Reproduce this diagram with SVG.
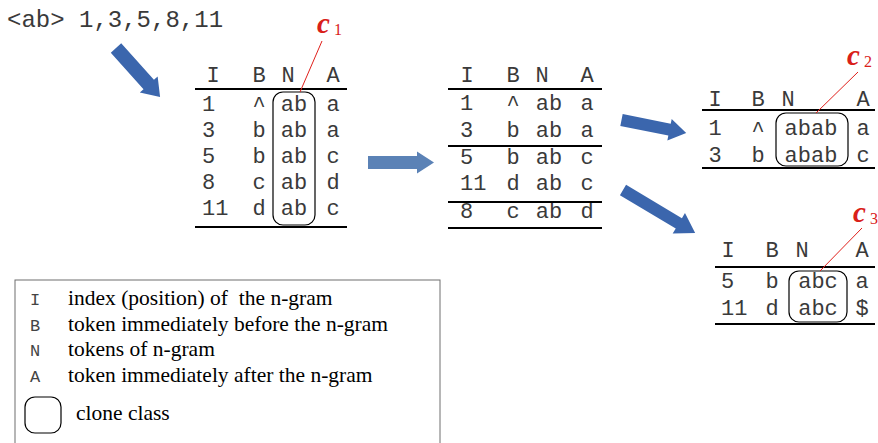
<svg xmlns="http://www.w3.org/2000/svg" width="878" height="443" viewBox="0 0 878 443">
<style>
.mono{font-family:"Liberation Mono","Courier New",monospace;font-size:22px;fill:#3a3a3a}
.mc{text-anchor:middle}
.rule{stroke:#000;stroke-width:2}
.clone{fill:none;stroke:#000;stroke-width:1.2}
.red{stroke:#e0201b;stroke-width:1;fill:none}
.lbl{font-family:"Liberation Serif","Times New Roman",serif;font-style:italic;font-weight:bold;fill:#d9201a;font-size:29px}
.sub{font-family:"Liberation Serif","Times New Roman",serif;fill:#d9201a;font-size:16px}
.serif{font-family:"Liberation Serif","Times New Roman",serif;font-size:21.5px;fill:#000}
.lm{font-family:"Liberation Mono","Courier New",monospace;font-size:17px;fill:#444;text-anchor:middle}
.arr{fill:#3b66ad}
.arr2{fill:#5b82b6}
</style>
<rect width="878" height="443" fill="#fff"/>

<g id="query">
<text class="mono" x="7" y="27" style="font-size:24px">&lt;ab&gt; 1,3,5,8,11</text>
</g>

<g id="connectors">
<polygon class="arr" transform="translate(116,48) rotate(48.1)" points="0,-7 49,-7 49,-12 66,0 49,12 49,7 0,7"/>
<polygon class="arr2" transform="translate(368,162.5)" points="0,-6.5 49,-6.5 49,-11 66,0 49,11 49,6.5 0,6.5"/>
<polygon class="arr" transform="translate(621.5,120) rotate(11.4)" points="0,-6 49,-6 49,-11 66,0 49,11 49,6 0,6"/>
<polygon class="arr" transform="translate(623,190) rotate(30.8)" points="0,-6 65,-6 65,-12 84,0 65,12 65,6 0,6"/>
</g>

<g id="table1">
<g class="mono">
<text class="mc" x="213" y="82">I</text><text class="mc" x="259" y="82">B</text><text class="mc" x="288" y="82">N</text><text class="mc" x="333" y="82">A</text>
<text x="202" y="110.5">1</text><text class="mc" x="259" y="112">^</text><text class="mc" x="294" y="110.5">ab</text><text class="mc" x="333" y="110.5">a</text>
<text x="202" y="136.5">3</text><text class="mc" x="259" y="136.5">b</text><text class="mc" x="294" y="136.5">ab</text><text class="mc" x="333" y="136.5">a</text>
<text x="202" y="162.5">5</text><text class="mc" x="259" y="162.5">b</text><text class="mc" x="294" y="162.5">ab</text><text class="mc" x="333" y="162.5">c</text>
<text x="202" y="188.5">8</text><text class="mc" x="259" y="188.5">c</text><text class="mc" x="294" y="188.5">ab</text><text class="mc" x="333" y="188.5">d</text>
<text x="202" y="214.5">11</text><text class="mc" x="259" y="214.5">d</text><text class="mc" x="294" y="214.5">ab</text><text class="mc" x="333" y="214.5">c</text>
</g>
<line class="rule" x1="195" y1="89" x2="347" y2="89"/>
<line class="rule" x1="195" y1="227" x2="347" y2="227"/>
<rect class="clone" x="273" y="92" width="42" height="133" rx="10"/>
</g>

<g id="label-c1">
<line class="red" x1="322" y1="41" x2="300" y2="92"/>
<text class="lbl" x="317" y="33">c</text>
<text class="sub" x="334" y="35">1</text>
</g>

<g id="table2">
<g class="mono">
<text class="mc" x="467" y="82">I</text><text class="mc" x="513" y="82">B</text><text class="mc" x="542" y="82">N</text><text class="mc" x="587" y="82">A</text>
<text x="460" y="109.5">1</text><text class="mc" x="513" y="111">^</text><text class="mc" x="549" y="109.5">ab</text><text class="mc" x="587" y="109.5">a</text>
<text x="460" y="136.5">3</text><text class="mc" x="513" y="136.5">b</text><text class="mc" x="549" y="136.5">ab</text><text class="mc" x="587" y="136.5">a</text>
<text x="460" y="164">5</text><text class="mc" x="513" y="164">b</text><text class="mc" x="549" y="164">ab</text><text class="mc" x="587" y="164">c</text>
<text x="460" y="190">11</text><text class="mc" x="513" y="190">d</text><text class="mc" x="549" y="190">ab</text><text class="mc" x="587" y="190">c</text>
<text x="460" y="217.5">8</text><text class="mc" x="513" y="217.5">c</text><text class="mc" x="549" y="217.5">ab</text><text class="mc" x="587" y="217.5">d</text>
</g>
<line class="rule" x1="448" y1="89" x2="602" y2="89"/>
<line class="rule" x1="448" y1="146" x2="602" y2="146"/>
<line class="rule" x1="448" y1="202" x2="602" y2="202"/>
<line class="rule" x1="448" y1="228" x2="602" y2="228"/>
</g>

<g id="table3">
<g class="mono">
<text class="mc" x="715" y="106">I</text><text class="mc" x="758" y="106">B</text><text class="mc" x="788" y="106">N</text><text class="mc" x="863" y="106">A</text>
<text class="mc" x="715" y="135">1</text><text class="mc" x="758" y="136.5">^</text><text class="mc" x="811" y="135">abab</text><text class="mc" x="863" y="135">a</text>
<text class="mc" x="715" y="162">3</text><text class="mc" x="758" y="162">b</text><text class="mc" x="811" y="162">abab</text><text class="mc" x="863" y="162">c</text>
</g>
<line class="rule" x1="702" y1="110" x2="875" y2="110"/>
<line class="rule" x1="702" y1="168" x2="875" y2="168"/>
<rect class="clone" x="776" y="113" width="72" height="53" rx="10"/>
</g>

<g id="label-c2">
<line class="red" x1="858" y1="72" x2="816" y2="113"/>
<text class="lbl" x="847" y="65">c</text>
<text class="sub" x="864" y="67">2</text>
</g>

<g id="table4">
<g class="mono">
<text class="mc" x="728" y="257">I</text><text class="mc" x="772" y="257">B</text><text class="mc" x="802" y="257">N</text><text class="mc" x="862" y="257">A</text>
<text x="721" y="288">5</text><text class="mc" x="772" y="288">b</text><text class="mc" x="818" y="288">abc</text><text class="mc" x="862" y="288">a</text>
<text x="721" y="315">11</text><text class="mc" x="772" y="315">d</text><text class="mc" x="818" y="315">abc</text><text class="mc" x="862" y="315">$</text>
</g>
<line class="rule" x1="715" y1="267" x2="875" y2="267"/>
<line class="rule" x1="715" y1="324" x2="875" y2="324"/>
<rect class="clone" x="789" y="271" width="58" height="51" rx="10"/>
</g>

<g id="label-c3">
<line class="red" x1="862" y1="228" x2="820" y2="271"/>
<text class="lbl" x="853" y="222">c</text>
<text class="sub" x="870" y="224">3</text>
</g>

<g id="legend">
<rect x="15" y="280" width="425" height="180" fill="none" stroke="#6e6e6e" stroke-width="1"/>
<text class="lm" x="35" y="305">I</text><text class="serif" x="68" y="305">index (position) of&#160; the n-gram</text>
<text class="lm" x="35" y="331">B</text><text class="serif" x="68" y="331">token immediately before the n-gram</text>
<text class="lm" x="35" y="356">N</text><text class="serif" x="68" y="356">tokens of n-gram</text>
<text class="lm" x="35" y="382">A</text><text class="serif" x="68" y="382">token immediately after the n-gram</text>
<rect x="25" y="397" width="36" height="36" rx="10" fill="none" stroke="#000" stroke-width="1.2"/>
<text class="serif" x="76" y="420">clone class</text>
</g>
</svg>
